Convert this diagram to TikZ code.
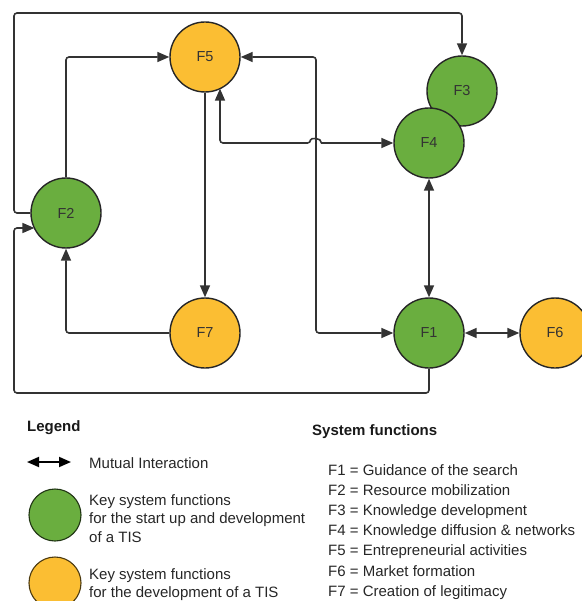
\documentclass[tikz,border=0pt]{standalone}
\usepackage{fontspec}
\setmainfont{Liberation Sans}
\usetikzlibrary{arrows.meta}
\definecolor{fgreen}{HTML}{6AAE3F}
\definecolor{fyellow}{HTML}{FBBE33}
\definecolor{lineg}{HTML}{333333}
\begin{document}
\begin{tikzpicture}[x=1pt,y=-1pt,
  fn/.style={circle,draw=black!85,line width=1.4pt,minimum size=70pt,inner sep=0pt,font=\fontsize{14.5}{16}\selectfont,text=black!80},
  gfn/.style={fn,fill=fgreen},
  yfn/.style={fn,fill=fyellow},
  lfn/.style={circle,line width=1.1pt,minimum size=52pt,inner sep=0pt},
  conn/.style={draw=lineg,line width=1.6pt,rounded corners=3pt},
  tip/.style={-{Triangle[length=12pt,width=10pt]}},
  btip/.style={{Triangle[length=12pt,width=10pt]}-{Triangle[length=12pt,width=10pt]}},
  lab/.style={anchor=base west,inner sep=0pt,font=\fontsize{15}{18}\selectfont,text=black!85},
  head/.style={anchor=base west,inner sep=0pt,font=\fontsize{15}{18}\selectfont\bfseries,text=black!90}]
\useasboundingbox (0,0) rectangle (581,601);
% nodes
\node[yfn] (F5) at (205,57) {F5};
\node[gfn] (F2) at (66,213) {F2};
\node[gfn] (F3) at (462,91) {F3};
\node[gfn] (F4) at (429,143) {F4};
\node[yfn] (F7) at (205,333) {F7};
\node[gfn] (F1) at (429,333) {F1};
\node[yfn] (F6) at (555,333) {F6};
% connectors
\draw[conn,tip] (F2.west) -- (14,213) -- (14,13) -- (462,13) -- (F3.north);
\draw[conn,tip] (F2.north) -- (66,57) -- (F5.west);
\draw[conn,btip] (F5.east) -- (316,57) -- (316,333) -- (F1.west);
\coordinate (f5b) at (220,88.6);
\draw[conn,btip] (f5b) -- (220,143) -- (310.5,143) [sharp corners] .. controls (310.5,137.5) and (321.5,137.5) .. (321.5,143) -- (F4.west);
\draw[conn,tip] (F5.south) -- (F7.north);
\draw[conn,tip] (F7.west) -- (66,333) -- (F2.south);
\coordinate (f2in) at (34.4,228);
\draw[conn,tip] (F1.south) -- (429,393) -- (14,393) -- (14,228) -- (f2in);
\draw[conn,btip] (F4.south) -- (F1.north);
\draw[conn,btip] (F1.east) -- (F6.west);
% legend
\node[head] (lg) at (27,431) {Legend};
\coordinate (la) at (27,462);
\coordinate (lb) at (71,462);
\draw[draw=black,line width=1.8pt,{Triangle[length=12pt,width=10pt]}-{Triangle[length=12pt,width=10pt]}] (la) -- (lb);
\node[lab] (mi) at (89,468) {Mutual Interaction};
\node[lfn,draw=black!70!fgreen,fill=fgreen] (lgc) at (55,515) {};
\node[lab] (g1) at (89,505) {Key system functions};
\node[lab] (g2) at (89,523) {for the start up and development};
\node[lab] (g3) at (89,542) {of a TIS};
\node[lfn,draw=black!70!fyellow,fill=fyellow] (lyc) at (55,583) {};
\node[lab] (y1) at (89,579) {Key system functions};
\node[lab] (y2) at (89,597) {for the development of a TIS};
\node[head] (sf) at (312,435) {System functions};
\node[lab] (s1) at (328,475) {F1 = Guidance of the search};
\node[lab] (s2) at (328,495) {F2 = Resource mobilization};
\node[lab] (s3) at (328,515) {F3 = Knowledge development};
\node[lab] (s4) at (328,535) {F4 = Knowledge diffusion \& networks};
\node[lab] (s5) at (328,555) {F5 = Entrepreneurial activities};
\node[lab] (s6) at (328,576) {F6 = Market formation};
\node[lab] (s7) at (328,596) {F7 = Creation of legitimacy};
\end{tikzpicture}
\end{document}
